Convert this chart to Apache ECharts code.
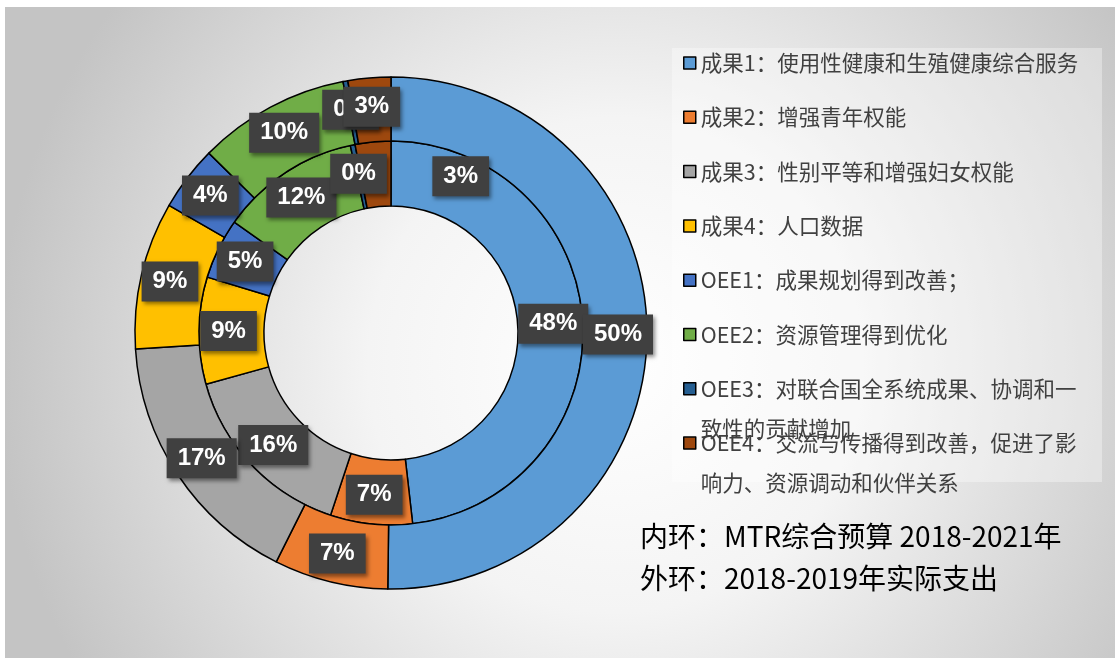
<!DOCTYPE html>
<html>
<head>
<meta charset="utf-8">
<title>MTR</title>
<script src="https://cdn.jsdelivr.net/npm/echarts@6/dist/echarts.min.js"></script>
<style>
	html, body { margin: 0; padding: 0; background: #fff; }
	#main { width: 1115px; height: 660px; }
</style>
</head>
<body>
<div id="main"></div>
<script>
var categories = [
	'成果1：使用性健康和生殖健康综合服务',
	'成果2：增强青年权能',
	'成果3：性别平等和增强妇女权能',
	'成果4：人口数据',
	'OEE1：成果规划得到改善；',
	'OEE2：资源管理得到优化',
	'OEE3：对联合国全系统成果、协调和一致性的贡献增加',
	'OEE4：交流与传播得到改善，促进了影响力、资源调动和伙伴关系'
];
// 内环：MTR综合预算 2018-2021年
var innerValues = [48.2, 6.9, 15.6, 9.0, 5.1, 11.8, 0.4, 3.0];
// 外环：2018-2019年实际支出
var outerValues = [50.2, 7.2, 16.6, 9.3, 4.1, 9.6, 0.3, 2.7];
var noteLines = ['内环：MTR综合预算 2018-2021年', '外环：2018-2019年实际支出'];

var colors = ['#5B9BD5', '#ED7D31', '#A5A5A5', '#FFC000', '#4472C4', '#70AD47', '#255E91', '#9E480E'];
var center = [391, 333];

function buildData(values, isInner) {
	return values.map(function(v, i) {
		var item = { name: categories[i], value: v };
		// inner 3% label sits off to the right in the original
		if (isInner && i === 7) {
			item.label = { offset: [85, 5] };
		}
		return item;
	});
}

var labelStyle = {
	show: true,
	position: 'inside',
	formatter: function(p) {
		return Math.round(p.percent) + '%';
	},
	color: '#fff',
	fontFamily: 'Liberation Sans',
	fontWeight: 'bold',
	fontSize: 24,
	lineHeight: 26,
	backgroundColor: '#404040',
	padding: [7, 11, 7, 11],
	shadowColor: 'rgba(0,0,0,0.45)',
	shadowBlur: 4,
	shadowOffsetX: 2,
	shadowOffsetY: 3
};

function makePie(name, values, radius, isInner) {
	return {
		name: name,
		type: 'pie',
		center: center,
		radius: radius,
		startAngle: 90,
		clockwise: true,
		avoidLabelOverlap: false,
		animation: false,
		label: labelStyle,
		labelLine: { show: false },
		labelLayout: { hideOverlap: false },
		emphasis: { scale: false },
		itemStyle: {
			borderColor: '#000',
			borderWidth: 1.5
		},
		data: buildData(values, isInner)
	};
}

// one legend per item, so the wrapped texts overlap like the original
function makeLegends() {
	return categories.map(function(name, i) {
		var wraps = name.length > 20;
		var iconCenter = 63 + i * 54.3;
		return {
			orient: 'vertical',
			left: 683,
			top: iconCenter - (wraps ? 60 : 20),
			padding: 0,
			data: [name],
			icon: 'rect',
			itemWidth: 12,
			itemHeight: 12,
			itemStyle: { borderColor: '#000', borderWidth: 1.5 },
			selectedMode: false,
			// a blank first line keeps line one level with the icon
			formatter: function(n) {
				return wraps ? '\n' + n : n;
			},
			textStyle: {
				fontFamily: 'Noto Sans CJK SC',
				fontSize: 21.5,
				color: '#404040',
				lineHeight: 40,
				width: 390,
				overflow: 'break'
			}
		};
	});
}

var chart = echarts.init(document.getElementById('main'));
chart.setOption({
	color: colors,
	animation: false,
	graphic: [{
		type: 'rect',
		z: -10,
		silent: true,
		shape: { x: 5, y: 7, width: 1110, height: 651 },
		style: {
			fill: {
				type: 'radial', x: 0.55, y: 0.55, r: 0.95,
				colorStops: [
					{ offset: 0, color: '#ffffff' },
					{ offset: 0.4, color: '#f4f4f4' },
					{ offset: 1, color: '#c4c4c4' }
				]
			}
		}
	}, {
		type: 'rect',
		z: -9,
		silent: true,
		shape: { x: 672, y: 48, width: 430, height: 434 },
		style: { fill: 'rgba(255,255,255,0.35)' }
	}],
	title: {
		text: noteLines.join('\n'),
		left: 640,
		top: 515,
		padding: 0,
		textStyle: {
			fontFamily: 'Noto Sans CJK SC',
			fontWeight: 'normal',
			fontSize: 28,
			lineHeight: 42,
			color: '#000'
		}
	},
	legend: makeLegends(),
	series: [
		makePie('MTR综合预算 2018-2021年', innerValues, [127, 192], true),
		makePie('2018-2019年实际支出', outerValues, [192, 256], false)
	]
});
</script>
</body>
</html>
